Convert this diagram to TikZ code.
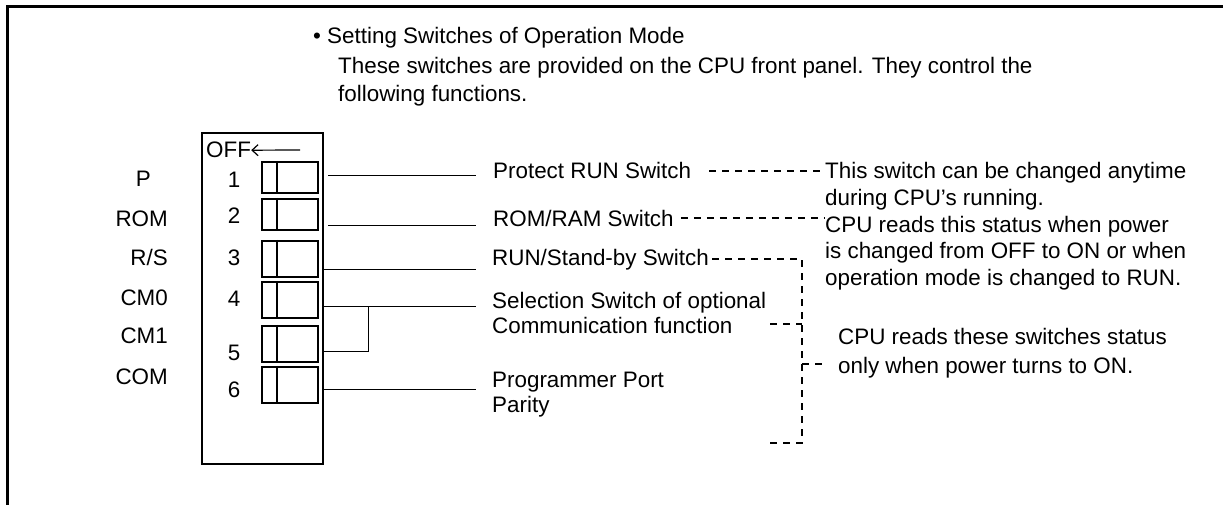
\documentclass[tikz,border=0pt]{standalone}
\usepackage{fontspec}
\setmainfont{Liberation Sans}
\usetikzlibrary{arrows.meta, calc}
\tikzset{
  txt/.style={inner sep=0pt, anchor=base west, align=left, font=\fontsize{22.4}{#1}\selectfont},
  txt/.default=26,
  lead/.style={line width=1pt},
  dots/.style={line width=2pt, dash pattern=on 7pt off 6pt},
  swbox/.style={draw, line width=2.2pt, minimum width=56pt, inner sep=0pt}
}

\begin{document}
\begin{tikzpicture}[x=1pt, y=-1pt]
  \useasboundingbox (0,0) rectangle (1223,505);
  \draw[line width=3pt] (7,505) -- (7,7) -- (1223,7);
  \node[txt] (title) at (313,44) {\textbullet\ Setting Switches of Operation Mode};
  \node[txt=28] (intro) at (338,102) {These switches are provided on the CPU front panel. They control the\\following functions.};

  \node[draw, line width=2.5pt, minimum width=121pt, minimum height=331pt, inner sep=0pt] (panel) at (262.5,298.5) {};
  \node[txt] (off) at (206,158) {OFF};
  \coordinate (offtail) at (300,150);
  \draw[-{Straight Barb[length=6pt,width=11pt]}, line width=1.2pt] (offtail) -- (off);
  \foreach \n/\t/\b in {1/162/193, 2/199/230, 3/241/277, 4/282/318, 5/326/362, 6/367/403} {
    \pgfmathsetmacro\h{\b-\t}
    \node[swbox, minimum height=\h pt] (sw\n) at (290,{(\t+\b)/2}) {};
    \draw[line width=2pt] ([xshift=16pt]sw\n.north west) -- ([xshift=16pt]sw\n.south west);
  }
  \foreach \n/\y in {1/188, 2/223, 3/265, 4/306, 5/360, 6/397}
    \node[txt, anchor=base] (num\n) at (234,\y) {\n};
  \foreach \s/\x/\y [count=\i] in {P/151/186, ROM/168/226, {R/S}/168/265, CM0/168/305, CM1/168/343, COM/168/384}
    \node[txt, anchor=base east] (mode\i) at (\x,\y) {\s};

  \foreach \i/\x/\y in {1/328/176, 2/328/225, 3/323/269, 4/323/306, 6/323/389} {
    \coordinate (ls\i) at (\x,\y);
    \coordinate (le\i) at (476,\y);
    \draw[lead] (ls\i) -- (le\i);
  }
  \coordinate (br5) at (323,351);
  \draw[lead] (br5) -| ($(ls4)+(45,0)$);

  \node[txt] (lab1) at (493,179) {Protect RUN Switch};
  \node[txt] (lab2) at (493,226) {ROM/RAM Switch};
  \node[txt] (lab3) at (492,265) {RUN/Stand-by Switch};
  \node[txt=25] (lab4) at (492,333) {Selection Switch of optional\\Communication function};
  \node[txt=25] (lab6) at (492,412) {Programmer Port\\Parity};
  \node[txt=27] (note1) at (825,205) {This switch can be changed anytime\\during CPU’s running.};
  \node[txt=26.5] (note2) at (825,285) {CPU reads this status when power\\is changed from OFF to ON or when\\operation mode is changed to RUN.};
  \node[txt=29] (note3) at (838,373) {CPU reads these switches status\\only when power turns to ON.};

  \coordinate (bus) at (802,443);
  \coordinate (c4) at (770,324);
  \coordinate (c5) at (824,364);
  \draw[dots] ([xshift=18pt]lab1.east) -- (lab1.east -| note1.west);
  \draw[dots] ([xshift=7pt]lab2.east) -- (lab2.east -| note2.west);
  \draw[dots] ([xshift=3pt]lab3.east) -| (bus) -- ++(-37,0);
  \draw[dots] (c4) -- (c4 -| bus);
  \draw[dots] (c5 -| bus) -- (c5);
\end{tikzpicture}
\end{document}
